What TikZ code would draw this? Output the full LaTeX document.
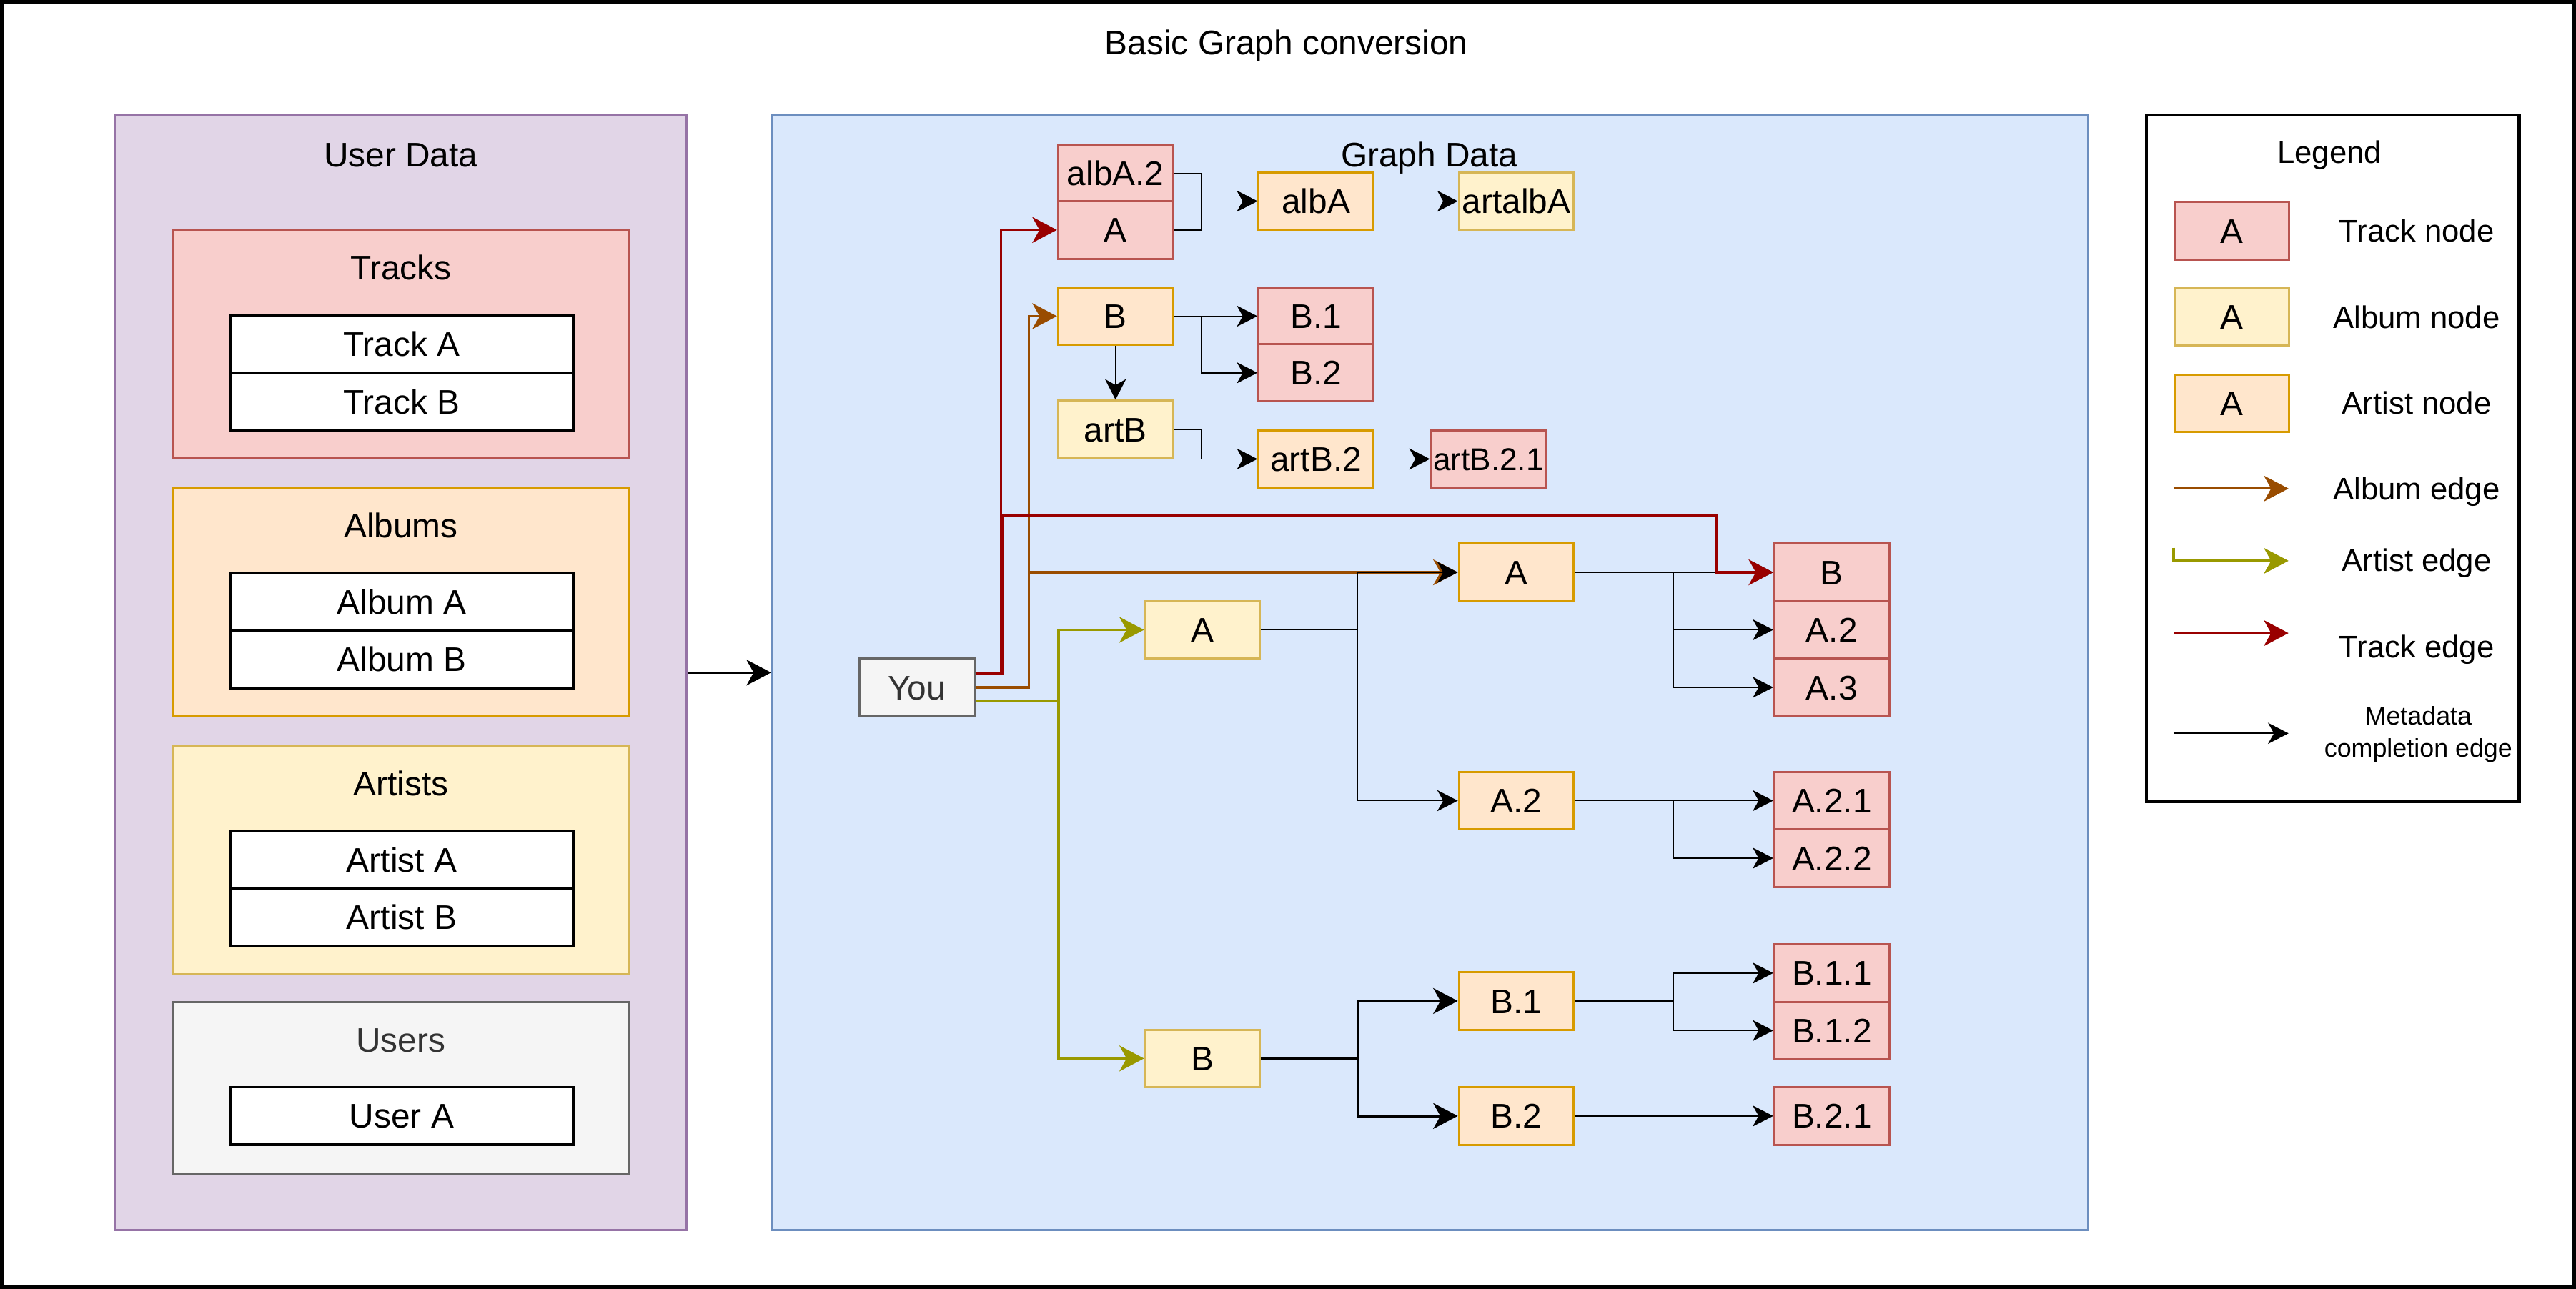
\documentclass[tikz,border=0pt]{standalone}
\usepackage{fontspec}
\setmainfont{Liberation Sans}
\usetikzlibrary{arrows.meta,calc}
\definecolor{trackF}{HTML}{F8CECC}\definecolor{trackS}{HTML}{B85450}
\definecolor{albumF}{HTML}{FFF2CC}\definecolor{albumS}{HTML}{D6B656}
\definecolor{artistF}{HTML}{FFE6CC}\definecolor{artistS}{HTML}{D79B00}
\definecolor{userF}{HTML}{E1D5E7}\definecolor{userS}{HTML}{9673A6}
\definecolor{graphF}{HTML}{DAE8FC}\definecolor{graphS}{HTML}{6C8EBF}
\definecolor{grayF}{HTML}{F5F5F5}\definecolor{grayS}{HTML}{666666}\definecolor{grayT}{HTML}{333333}
\definecolor{trackE}{HTML}{990000}\definecolor{albumE}{HTML}{994C00}\definecolor{artistE}{HTML}{999900}
\newcommand\myfs[1]{\fontsize{#1}{#1}\selectfont}
\begin{document}
\begin{tikzpicture}[x=1pt,y=-1pt,
  txt/.style={inner sep=0pt,text height=14.9pt,text depth=0pt,font=\myfs{20.8}},
  legtxt/.style={inner sep=0pt,text height=13.6pt,text depth=0pt,font=\myfs{19}},
  box/.style={draw,line width=1.3pt,minimum width=70pt,minimum height=35pt,inner sep=0pt,
     text height=14.9pt,text depth=0pt,font=\myfs{20.8}},
  tracknode/.style={box,draw=trackS,fill=trackF},
  albumnode/.style={box,draw=albumS,fill=albumF},
  artistnode/.style={box,draw=artistS,fill=artistF},
  rowbox/.style={box,draw=black,fill=white,line width=1.5pt,minimum width=209pt},
  panel/.style={draw,line width=1.3pt,inner sep=0pt},
  thinA/.style={-{Stealth[length=12.5pt,width=12.8pt,inset=3.6pt]}},
  thickA/.style={-{Stealth[length=15pt,width=15.7pt,inset=4.4pt]}},
  meta/.style={thinA,line width=0.8pt,black},
  metathick/.style={thickA,line width=1.45pt,black},
  trackedge/.style={thickA,line width=1.45pt,trackE},
  albumedge/.style={thickA,line width=1.45pt,albumE},
  artistedge/.style={thickA,line width=1.45pt,artistE},
]
\useasboundingbox (0,0) rectangle (1568,784.85);
\fill[white] (0,0) rectangle (1568,784.85);
\draw[line width=2pt] (1,1) rectangle (1567,783.85);
\node[txt] (title) at (783,26) {Basic Graph conversion};

% ---------- User data panel ----------
\node[panel,draw=userS,fill=userF,minimum width=348pt,minimum height=679pt] (up) at (244,409.5) {};
\node[txt] (uplbl) at (244,94) {User Data};

\node[panel,draw=trackS,fill=trackF,minimum width=278pt,minimum height=139pt] (tracks) at (244,209.5) {};
\node[txt] (trackslbl) at (244,163) {Tracks};
\node[rowbox] (trkA) at (244.5,209.5) {Track A};
\node[rowbox] (trkB) at (244.5,244.5) {Track B};

\node[panel,draw=artistS,fill=artistF,minimum width=278pt,minimum height=139pt] (albums) at (244,366.5) {};
\node[txt] (albumslbl) at (244,320) {Albums};
\node[rowbox] (albmA) at (244.5,366.5) {Album A};
\node[rowbox] (albmB) at (244.5,401.5) {Album B};

\node[panel,draw=albumS,fill=albumF,minimum width=278pt,minimum height=139pt] (artists) at (244,523.5) {};
\node[txt] (artistslbl) at (244,477) {Artists};
\node[rowbox] (artsA) at (244.5,523.5) {Artist A};
\node[rowbox] (artsB) at (244.5,558.5) {Artist B};

\node[panel,draw=grayS,fill=grayF,minimum width=278pt,minimum height=105pt] (users) at (244,662.5) {};
\node[txt,text=grayT] (userslbl) at (244,633) {Users};
\node[rowbox] (usrA) at (244.5,679.5) {User A};

% ---------- Graph data panel ----------
\node[panel,draw=graphS,fill=graphF,minimum width=801pt,minimum height=679pt] (gp) at (870.5,409.5) {};
\node[txt] (gplbl) at (870,94) {Graph Data};
\draw[line width=1.45pt,thickA] (up.east) -- (gp.west);

\node[tracknode] (albA2) at (679,105.5) {albA.2};
\node[tracknode] (trA) at (679,140) {A};
\node[artistnode] (albA) at (801,122.5) {albA};
\node[albumnode] (artalbA) at (923,122.5) {artalbA};
\node[artistnode] (arB) at (679,192.5) {B};
\node[tracknode] (trB1) at (801,192.5) {B.1};
\node[tracknode] (trB2) at (801,227) {B.2};
\node[albumnode] (artB) at (679,261.5) {artB};
\node[artistnode] (artB2) at (801,279.5) {artB.2};
\node[tracknode,font=\myfs{19.2},text height=13.8pt] (artB21) at (906,279.5) {artB.2.1};
\node[artistnode] (arA) at (923,348.5) {A};
\node[tracknode] (trB) at (1115,348.5) {B};
\node[tracknode] (trA2) at (1115,383.5) {A.2};
\node[tracknode] (trA3) at (1115,418.5) {A.3};
\node[box,draw=grayS,fill=grayF,text=grayT] (you) at (558,418.5) {You};
\node[albumnode] (alA) at (732,383.5) {A};
\node[artistnode] (arA2) at (923,487.5) {A.2};
\node[tracknode] (trA21) at (1115,487.5) {A.2.1};
\node[tracknode] (trA22) at (1115,522.5) {A.2.2};
\node[albumnode] (alB) at (732,644.5) {B};
\node[artistnode] (arB1) at (923,609.5) {B.1};
\node[artistnode] (arB2) at (923,679.5) {B.2};
\node[tracknode] (trB11) at (1115,592.5) {B.1.1};
\node[tracknode] (trB12) at (1115,627.5) {B.1.2};
\node[tracknode] (trB21) at (1115,679.5) {B.2.1};

% album edges (drawn first)
\draw[albumedge] (you.east) -| ($(arB.west)+(-17,0)$) -- (arB.west);
\draw[albumedge] (you.east) -| ($(arA.west)+(-261,0)$) -- (arA.west);

% metadata completion edges
\draw[meta] (albA2.east) -| ($(albA.west)+(-34,0)$) -- (albA.west);
\draw[meta] (trA.east) -| ($(albA.west)+(-34,0)$) -- (albA.west);
\draw[meta] (albA.east) -- (artalbA.west);
\draw[meta] (arB.east) -- (trB1.west);
\draw[meta] (arB.east) -| ($(trB2.west)+(-34,0)$) -- (trB2.west);
\draw[meta] (arB.south) -- (artB.north);
\draw[meta] (artB.east) -| ($(artB2.west)+(-34,0)$) -- (artB2.west);
\draw[meta] (artB2.east) -- (artB21.west);
\draw[meta] (arA.east) -- (trB.west);
\draw[meta] (arA.east) -| ($(trA2.west)+(-61,0)$) -- (trA2.west);
\draw[meta] (arA.east) -| ($(trA3.west)+(-61,0)$) -- (trA3.west);
\draw[meta] (alA.east) -| ($(arA.west)+(-61,0)$) -- (arA.west);
\draw[meta] (alA.east) -| ($(arA2.west)+(-61,0)$) -- (arA2.west);
\draw[meta] (arA2.east) -- (trA21.west);
\draw[meta] (arA2.east) -| ($(trA22.west)+(-61,0)$) -- (trA22.west);
\draw[metathick] (alB.east) -| ($(arB1.west)+(-61,0)$) -- (arB1.west);
\draw[metathick] (alB.east) -| ($(arB2.west)+(-61,0)$) -- (arB2.west);
\draw[meta] (arB1.east) -| ($(trB11.west)+(-61,0)$) -- (trB11.west);
\draw[meta] (arB1.east) -| ($(trB12.west)+(-61,0)$) -- (trB12.west);
\draw[meta] (arB2.east) -- (trB21.west);

% track edges
\draw[trackedge] ([yshift=8.5pt]you.east) -| ($(trA.west)+(-34,0)$) -- (trA.west);
\draw[trackedge] ([yshift=8.5pt]you.east) -| (610,314) -- (1045,314) |- (trB.west);

% artist edges
\draw[artistedge] ([yshift=-8.5pt]you.east) -| ($(alA.west)+(-52,0)$) -- (alA.west);
\draw[artistedge] ([yshift=-8.5pt]you.east) -| ($(alB.west)+(-52,0)$) -- (alB.west);

% ---------- Legend ----------
\node[panel,draw=black,fill=white,line width=2pt,minimum width=227pt,minimum height=418pt] (leg) at (1420,279) {};
\node[legtxt] (leglbl) at (1418,92.5) {Legend};
\node[tracknode] (lgT) at (1358.5,140.5) {A};
\node[albumnode] (lgAl) at (1358.5,193) {A};
\node[artistnode] (lgAr) at (1358.5,245.5) {A};
\node[legtxt] (lgTt) at (1471,140.5) {Track node};
\node[legtxt] (lgAlt) at (1471,193) {Album node};
\node[legtxt] (lgArt) at (1471,245.5) {Artist node};
\coordinate (e1a) at (1323,297.5); \coordinate (e1b) at (1393,297.5);
\draw[albumedge] (e1a) -- (e1b);
\node[legtxt] (lgE1) at (1471,297.5) {Album edge};
\coordinate (e2a) at (1323,333.5); \coordinate (e2b) at (1393,341.5);
\draw[artistedge] (e2a) |- (e2b);
\node[legtxt] (lgE2) at (1471,341) {Artist edge};
\coordinate (e3a) at (1323,385.5); \coordinate (e3b) at (1393,385.5);
\draw[trackedge] (e3a) -- (e3b);
\node[legtxt] (lgE3) at (1471,393.5) {Track edge};
\coordinate (e4a) at (1323,446.5); \coordinate (e4b) at (1393,446.5);
\draw[meta] (e4a) -- (e4b);
\node[inner sep=0pt,align=center,font=\fontsize{15.6}{19.5}\selectfont] (lgE4) at (1472,447) {Metadata\\completion edge};
\end{tikzpicture}
\end{document}
